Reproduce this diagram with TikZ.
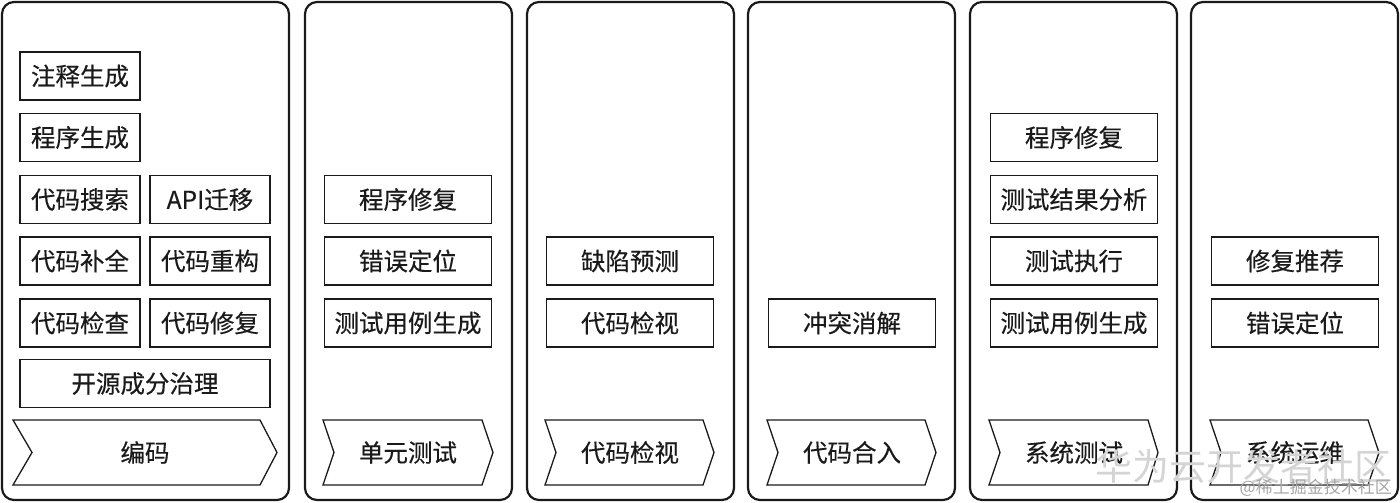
\documentclass[tikz,border=0pt]{standalone}
\usepackage{fontspec}
\newfontfamily\cjk[FakeBold=0.35]{Noto Sans CJK SC}
\newfontfamily\cjkwm{Noto Sans CJK SC}
\definecolor{ink}{HTML}{1A1A1A}
\definecolor{wm}{HTML}{D4D4D4}
\tikzset{
  lane/.style={draw=ink, line width=2.2pt, rounded corners=12pt},
  item/.style={draw=ink, line width=1.3pt, minimum height=48pt, inner sep=0pt,
    text=ink, font=\cjk\fontsize{24.5}{27}\selectfont},
  chev/.style={draw=ink, line width=1.3pt, line join=miter},
  chevtext/.style={text=ink, font=\cjk\fontsize{24.5}{27}\selectfont, inner sep=0pt},
  wmark/.style={text=wm, inner sep=0pt}
}
\begin{document}
\begin{tikzpicture}[x=1pt,y=-1pt]
\useasboundingbox (0,0) rectangle (1400,503);
% lanes
\draw[lane] (2,2) rectangle (289,500);
\draw[lane] (305,2) rectangle (512,500);
\draw[lane] (527,2) rectangle (734,500);
\draw[lane] (748,2) rectangle (955,500);
\draw[lane] (970,2) rectangle (1177,500);
\draw[lane] (1191,2) rectangle (1398,500);
% column 1 items
\node[item, minimum width=120pt] (a1) at (80,76) {注释生成};
\node[item, minimum width=120pt] (a2) at (80,137.5) {程序生成};
\node[item, minimum width=120pt] (a3) at (80,199.5) {代码搜索};
\node[item, minimum width=120pt] (a4) at (210,199.5) {API迁移};
\node[item, minimum width=120pt] (a5) at (80,261) {代码补全};
\node[item, minimum width=120pt] (a6) at (210,261) {代码重构};
\node[item, minimum width=120pt] (a7) at (80,323) {代码检查};
\node[item, minimum width=120pt] (a8) at (210,323) {代码修复};
\node[item, minimum width=250pt] (a9) at (145,383.5) {开源成分治理};
% column 2
\node[item, minimum width=167pt] (b1) at (408,199.5) {程序修复};
\node[item, minimum width=167pt] (b2) at (408,261) {错误定位};
\node[item, minimum width=167pt] (b3) at (408,323) {测试用例生成};
% column 3
\node[item, minimum width=167pt] (c1) at (630,261) {缺陷预测};
\node[item, minimum width=167pt] (c2) at (630,323) {代码检视};
% column 4
\node[item, minimum width=167pt] (d1) at (852,323) {冲突消解};
% column 5
\node[item, minimum width=167pt] (e1) at (1074,137.5) {程序修复};
\node[item, minimum width=167pt] (e2) at (1074,199.5) {测试结果分析};
\node[item, minimum width=167pt] (e3) at (1074,261) {测试执行};
\node[item, minimum width=167pt] (e4) at (1074,323) {测试用例生成};
% column 6
\node[item, minimum width=167pt] (f1) at (1295,261) {修复推荐};
\node[item, minimum width=167pt] (f2) at (1295,323) {错误定位};
% chevrons
\draw[chev] (13,420) -- (260,420) -- (277,452.5) -- (260,485) -- (13,485) -- (32,452.5) -- cycle;
\node[chevtext] (s1) at (145,452.5) {编码};
\draw[chev] (323,420) -- (482,420) -- (493,452.5) -- (482,485) -- (323,485) -- (334,452.5) -- cycle;
\node[chevtext] (s2) at (408,452.5) {单元测试};
\draw[chev] (545,420) -- (703,420) -- (714,452.5) -- (703,485) -- (545,485) -- (556,452.5) -- cycle;
\node[chevtext] (s3) at (630,452.5) {代码检视};
\draw[chev] (767,420) -- (925,420) -- (936,452.5) -- (925,485) -- (767,485) -- (778,452.5) -- cycle;
\node[chevtext] (s4) at (852,452.5) {代码合入};
\draw[chev] (989,420) -- (1148,420) -- (1158,452.5) -- (1148,485) -- (989,485) -- (1000,452.5) -- cycle;
\node[chevtext] (s5) at (1074,452.5) {系统测试};
\draw[chev] (1210,420) -- (1368,420) -- (1379,452.5) -- (1368,485) -- (1210,485) -- (1221,452.5) -- cycle;
\node[chevtext] (s6) at (1295,452.5) {系统运维};
% watermarks
\node[wmark, font=\cjkwm\fontsize{37}{39}\selectfont, anchor=east] (w1) at (1392,466) {华为云开发者社区};
\node[wmark, font=\cjkwm\fontsize{17}{19}\selectfont, anchor=east, text=gray!70] (w2) at (1392,488) {@稀土掘金技术社区};
\end{tikzpicture}
\end{document}
